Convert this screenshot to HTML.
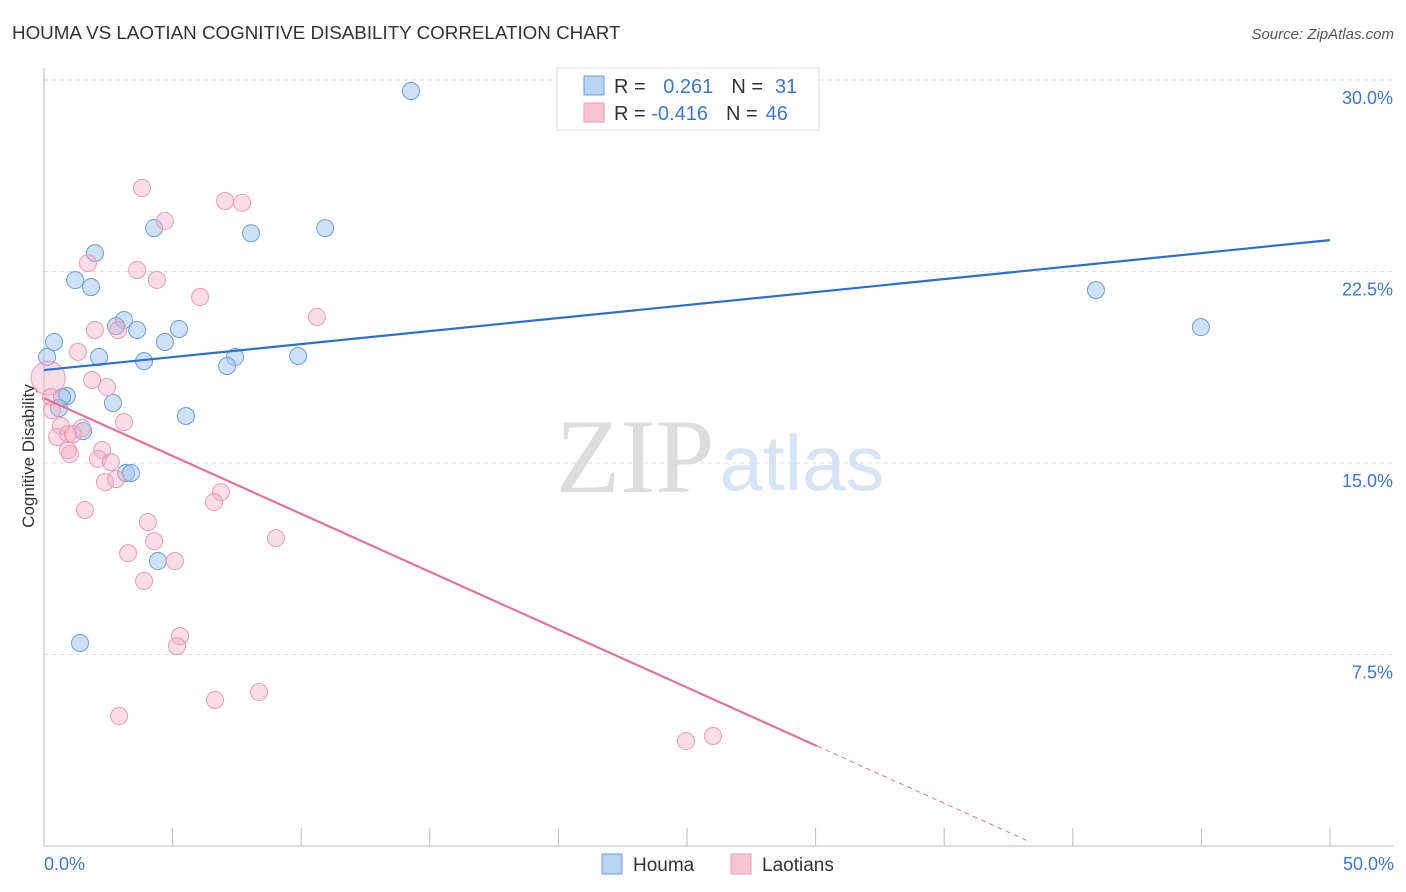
<!DOCTYPE html>
<html><head><meta charset="utf-8"><style>
body{margin:0;background:#fff;font-family:"Liberation Sans",sans-serif;}
#wrap{position:relative;width:1406px;height:892px;overflow:hidden;}
</style></head><body>
<div id="wrap">
<svg id="svg" width="1406" height="892" xmlns="http://www.w3.org/2000/svg">
<text x="12" y="39" font-size="18.8" fill="#333">HOUMA VS LAOTIAN COGNITIVE DISABILITY CORRELATION CHART</text>
<text x="1394" y="39" font-size="15" fill="#555" font-style="italic" text-anchor="end">Source: ZipAtlas.com</text>
<text x="635" y="492" font-size="106" fill="#ddd" font-family="Liberation Serif,serif" text-anchor="middle">ZIP</text>
<text x="802" y="490" font-size="78" fill="#d6e4f5" text-anchor="middle">atlas</text>
<text transform="translate(34,456) rotate(-90)" font-size="17" fill="#333" text-anchor="middle">Cognitive Disability</text>
<g id="grid"></g><g id="marks"></g>
<g>
<rect x="557" y="68" width="262" height="62" fill="#fff" stroke="#ddd"/>
<rect x="584" y="76" width="20" height="19" fill="#b9d3f3" stroke="#6d9fdc"/>
<rect x="584" y="103" width="20" height="19" fill="#f7c4d4" stroke="#eb9bb5"/>
<text x="614" y="93" font-size="20" fill="#333">R = <tspan fill="#3b78d4" dx="12">0.261</tspan><tspan fill="#333" dx="18">N =</tspan><tspan fill="#3b78d4" dx="12">31</tspan></text>
<text x="614" y="120" font-size="20" fill="#333">R = <tspan fill="#3b78d4">-0.416</tspan><tspan fill="#333" dx="18">N =</tspan><tspan fill="#3b78d4" dx="8">46</tspan></text>
</g>
<g>
<rect x="602" y="854" width="20" height="20" fill="#b9d3f3" stroke="#6d9fdc"/>
<text x="633" y="871" font-size="19" fill="#333">Houma</text>
<rect x="731" y="854" width="20" height="20" fill="#f7c4d4" stroke="#eb9bb5"/>
<text x="762" y="871" font-size="19" fill="#333">Laotians</text>
</g>
</svg>
</div>
<script>
const yTicks=[7.5,15,22.5,30];
const yTickLabels=["7.5%","15.0%","22.5%","30.0%"];
const xTicks=[0,5,10,15,20,25,30,35,40,45,50];
const xEndLabels=["0.0%","50.0%"];
const houmaX=[14.27,4.28,8.05,10.93,1.98,1.21,1.83,3.11,2.80,3.62,5.25,4.70,0.39,0.12,2.14,3.89,7.43,7.12,9.88,0.89,0.70,0.58,2.68,5.52,1.52,3.19,3.38,4.43,1.40,40.90,44.98];
const houmaY=[29.57,24.20,24.00,24.20,23.22,22.16,21.89,20.60,20.36,20.21,20.25,19.74,19.74,19.15,19.15,18.99,19.15,18.80,19.19,17.62,17.58,17.15,17.35,16.84,16.25,14.61,14.61,11.16,7.95,21.77,20.32];
const laoX=[3.81,4.70,7.04,7.70,1.71,3.62,4.39,6.07,10.61,1.98,2.88,1.32,0.16,1.87,2.45,0.27,0.31,3.11,0.66,0.51,0.93,1.13,1.48,0.93,1.01,2.26,2.10,2.60,2.37,2.80,6.88,6.61,1.59,4.04,4.28,9.02,3.27,5.09,3.89,5.29,5.17,8.36,6.65,2.92,24.96,26.01];
const laoY=[25.77,24.48,25.26,25.19,22.83,22.56,22.17,21.50,20.72,20.21,20.21,19.35,18.33,18.25,17.97,17.58,17.07,16.60,16.45,16.02,16.13,16.13,16.37,15.51,15.35,15.51,15.16,15.04,14.25,14.37,13.86,13.47,13.16,12.69,11.94,12.06,11.47,11.16,10.38,8.22,7.83,6.03,5.72,5.09,4.11,4.31];
const houmaTrend=[18.64,23.73];   // y at x=0 and x=50
const laoTrend=[17.54,-0.4533];   // intercept, slope
const laoSolidEnd=30.05, laoDashEnd=38.2;

const NS="http://www.w3.org/2000/svg";
const X=v=>44+v*1286/50;
const Y=v=>846-v*766/30;
function mk(tag,attrs,parent){const e=document.createElementNS(NS,tag);for(const k in attrs)e.setAttribute(k,attrs[k]);parent.appendChild(e);return e;}
const grid=document.getElementById('grid'),marks=document.getElementById('marks');
yTicks.forEach((t,i)=>{
 const l=mk('line',{x1:44,x2:1394,y1:Y(t),y2:Y(t),stroke:'#ddd','stroke-dasharray':'4,4'},grid);
 
 
 const tx=mk('text',{x:1393,y:Y(t)+24,'font-size':18,fill:'#3b78d4','text-anchor':'end'},grid);
 tx.textContent=yTickLabels[i];
 
 
});
const ax=mk('line',{x1:44,x2:44,y1:68,y2:846,stroke:'#bbb'},grid);


const bx=mk('line',{x1:44,x2:1394,y1:846,y2:846,stroke:'#bbb'},grid);


xTicks.forEach(t=>{
 const l=mk('line',{x1:X(t),x2:X(t),y1:828,y2:846,stroke:'#bbb'},grid);
 
 
});
[[0,'start',44],[50,'end',1394]].forEach((d,i)=>{
 const tx=mk('text',{x:d[2],y:870,'font-size':18,fill:'#3b78d4','text-anchor':d[1]},grid);
 tx.textContent=xEndLabels[i];
 
 
});
houmaX.forEach((x,i)=>{
 const c=mk('circle',{cx:X(x),cy:Y(houmaY[i]),r:8.5,fill:'rgba(160,195,238,0.5)',stroke:'#6b9edc','stroke-width':1},marks);
 
 
});
laoX.forEach((x,i)=>{
 const c=mk('circle',{cx:X(x),cy:Y(laoY[i]),r:i==12?17:8.5,fill:'rgba(245,170,195,0.4)',stroke:'#ec9ab4','stroke-width':1},marks);
 
 
});
const hl=mk('line',{x1:X(0),y1:Y(houmaTrend[0]),x2:X(50),y2:Y(houmaTrend[1]),stroke:'#2a6fd6','stroke-width':2.2},marks);


const pl=mk('line',{x1:X(0),y1:Y(laoTrend[0]),x2:X(laoSolidEnd),y2:Y(laoTrend[0]+laoTrend[1]*laoSolidEnd),stroke:'#e8709a','stroke-width':2.2},marks);


const pd=mk('line',{x1:X(laoSolidEnd),y1:Y(laoTrend[0]+laoTrend[1]*laoSolidEnd),x2:X(laoDashEnd),y2:Y(laoTrend[0]+laoTrend[1]*laoDashEnd),stroke:'#e8709a','stroke-width':1,'stroke-dasharray':'5,4'},marks);


</script>
</body></html>
